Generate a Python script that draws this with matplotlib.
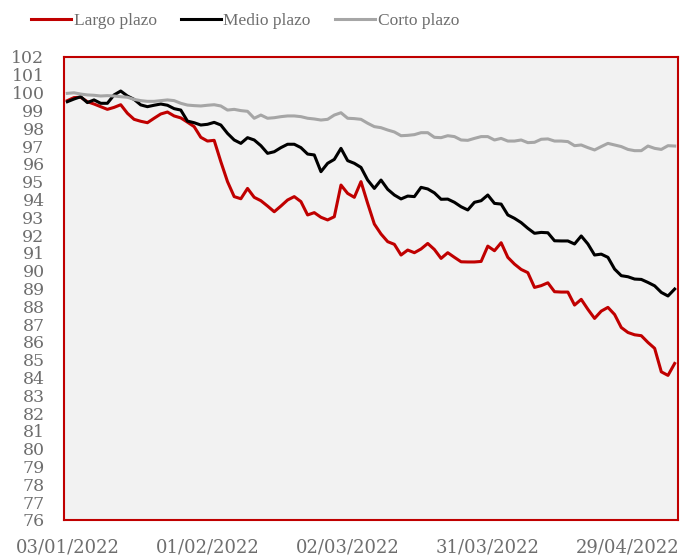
import numpy as np
import matplotlib
matplotlib.use("Agg")
import matplotlib.pyplot as plt

# Business days from 03/01/2022; tick label every 21 sessions
tick_labels = ["03/01/2022", "01/02/2022", "02/03/2022", "31/03/2022", "29/04/2022"]
tick_step = 21

largo = [99.55, 99.72, 99.74, 99.49, 99.36, 99.21, 99.06, 99.17, 99.32, 98.84,
         98.50, 98.39, 98.31, 98.56, 98.80, 98.91, 98.69, 98.58, 98.34, 98.09,
         97.49, 97.28, 97.32, 96.12, 95.00, 94.16, 94.04, 94.62, 94.12, 93.93,
         93.63, 93.31, 93.63, 93.97, 94.16, 93.88, 93.13, 93.26, 93.00, 92.85,
         93.03, 94.81, 94.34, 94.12, 95.00, 93.78, 92.62, 92.06, 91.63, 91.48,
         90.88, 91.16, 91.01, 91.22, 91.53, 91.19, 90.69, 91.01, 90.75, 90.50,
         90.49, 90.49, 90.52, 91.38, 91.12, 91.57, 90.75, 90.37, 90.07, 89.89,
         89.06, 89.16, 89.32, 88.82, 88.80, 88.80, 88.07, 88.39, 87.83, 87.32,
         87.73, 87.94, 87.54, 86.81, 86.53, 86.40, 86.35, 85.97, 85.64, 84.32,
         84.12, 84.79]

medio = [99.49, 99.64, 99.77, 99.44, 99.59, 99.40, 99.40, 99.87, 100.09, 99.81,
         99.62, 99.31, 99.21, 99.29, 99.36, 99.29, 99.10, 99.02, 98.40, 98.31,
         98.18, 98.22, 98.33, 98.18, 97.71, 97.34, 97.15, 97.47, 97.34, 97.02,
         96.59, 96.68, 96.91, 97.10, 97.10, 96.91, 96.55, 96.50, 95.56, 96.03,
         96.25, 96.87, 96.18, 96.03, 95.80, 95.09, 94.62, 95.09, 94.57, 94.25,
         94.03, 94.19, 94.16, 94.68, 94.59, 94.37, 94.01, 94.02, 93.84, 93.59,
         93.41, 93.84, 93.93, 94.25, 93.78, 93.74, 93.13, 92.94, 92.70, 92.38,
         92.10, 92.15, 92.13, 91.68, 91.67, 91.67, 91.50, 91.95, 91.50, 90.88,
         90.93, 90.75, 90.09, 89.72, 89.66, 89.53, 89.51, 89.34, 89.15, 88.78,
         88.58, 88.97]

corto = [99.96, 99.99, 99.92, 99.87, 99.85, 99.81, 99.83, 99.81, 99.77, 99.74,
         99.62, 99.55, 99.51, 99.51, 99.55, 99.59, 99.55, 99.40, 99.30, 99.27,
         99.25, 99.29, 99.32, 99.25, 99.02, 99.06, 98.99, 98.95, 98.56, 98.74,
         98.56, 98.59, 98.65, 98.69, 98.69, 98.65, 98.56, 98.52, 98.46, 98.50,
         98.74, 98.87, 98.56, 98.54, 98.50, 98.28, 98.09, 98.03, 97.90, 97.79,
         97.58, 97.60, 97.64, 97.75, 97.75, 97.49, 97.47, 97.58, 97.53, 97.34,
         97.32, 97.43, 97.53, 97.53, 97.34, 97.43, 97.28, 97.28, 97.34, 97.19,
         97.21, 97.38, 97.40, 97.28, 97.28, 97.25, 97.02, 97.06, 96.91, 96.78,
         96.97, 97.15, 97.06, 96.97, 96.81, 96.74, 96.74, 97.00, 96.87, 96.81,
         97.02, 97.00]

series_names = ["Largo plazo", "Medio plazo", "Corto plazo"]
series_colors = ["#c00000", "#000000", "#a6a6a6"]

plt.rcParams["font.family"] = ["DejaVu Serif"]
txt_col = "#6e6e6e"

fig = plt.figure(figsize=(6.91, 5.58), dpi=100)
ax = fig.add_axes([64/691, 1 - 520/558, (678 - 64)/691, (520 - 57)/558])
ax.set_facecolor("#f2f2f2")

x = np.arange(len(largo))
for vals, name, col in zip([largo, medio, corto], series_names, series_colors):
    ax.plot(x, vals, color=col, lw=2.2, label=name)

ax.set_xlim(-0.5, len(largo) - 0.5)
ax.set_ylim(76, 102)
ax.set_yticks(np.arange(76, 103, 1))
ax.set_xticks(np.arange(len(tick_labels)) * tick_step)
ax.set_xticklabels(tick_labels)

ax.tick_params(axis="both", length=0, labelcolor=txt_col)
ax.tick_params(axis="y", pad=14, labelsize=12.5)
ax.tick_params(axis="x", pad=13, labelsize=13)

for sp in ax.spines.values():
    sp.set_color("#c00000")
    sp.set_linewidth(1.5)

leg = fig.legend(loc="center left", bbox_to_anchor=(31/691, 1 - 21/558), ncol=3,
                 frameon=False, borderaxespad=0, borderpad=0,
                 handlelength=2.3, handletextpad=0.15, columnspacing=1.4,
                 prop={"family": "Liberation Serif", "size": 12.5})
for t in leg.get_texts():
    t.set_color(txt_col)

fig.savefig("out.png", dpi=100)
